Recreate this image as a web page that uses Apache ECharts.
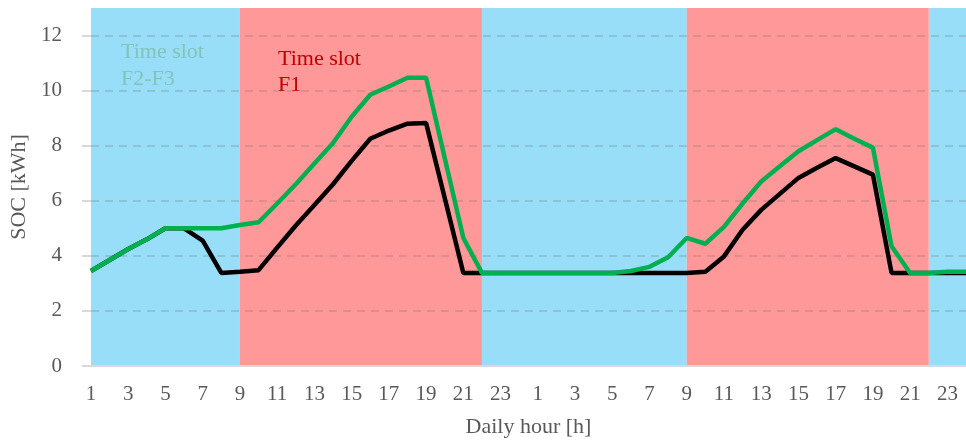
<!DOCTYPE html>
<html lang="en">
<head>
    <meta charset="UTF-8">
    <title>SOC</title>
    <script src="https://cdn.jsdelivr.net/npm/echarts@6/dist/echarts.min.js"></script>
    <style>
        body { margin: 0; background: #fff; }
        #app { width: 966px; height: 440px; }
    </style>
</head>
<body>
    <div id="app"></div>
    <script>
        // two days, hour of day
        const hours = ['1','2','3','4','5','6','7','8','9','10','11','12','13','14','15','16','17','18','19','20','21','22','23','24',
                       '1','2','3','4','5','6','7','8','9','10','11','12','13','14','15','16','17','18','19','20','21','22','23','24'];

        const socBlack = [3.45, 3.85, 4.25, 4.6, 5.0, 5.0, 4.55, 3.38, 3.42, 3.48, 4.3, 5.1, 5.85, 6.6, 7.45, 8.25, 8.55, 8.8, 8.82, 6.1, 3.38, 3.38, 3.38, 3.38,
                          3.38, 3.38, 3.38, 3.38, 3.38, 3.38, 3.38, 3.38, 3.38, 3.42, 3.98, 4.95, 5.67, 6.25, 6.83, 7.2, 7.55, 7.25, 6.95, 3.38, 3.38, 3.38, 3.38, 3.38];

        const socGreen = [3.45, 3.85, 4.25, 4.6, 5.0, 5.0, 5.0, 5.0, 5.12, 5.22, 5.9, 6.6, 7.35, 8.1, 9.05, 9.85, 10.15, 10.47, 10.47, 7.55, 4.65, 3.38, 3.38, 3.38,
                          3.38, 3.38, 3.38, 3.38, 3.38, 3.45, 3.6, 3.95, 4.65, 4.44, 5.05, 5.9, 6.7, 7.25, 7.8, 8.2, 8.6, 8.25, 7.93, 4.35, 3.38, 3.38, 3.42, 3.42];

        // time slot bands as [start index, end index]
        const slotOffPeak = [[0, 8], [21, 32], [45, 47]];
        const slotPeak = [[8, 21], [32, 45]];

        const font = 'Liberation Serif';
        const blue = '#99DEF8';
        const red = '#FF9899';

        const bands = [];
        slotOffPeak.forEach(s => bands.push([{ xAxis: s[0], itemStyle: { color: blue } }, { xAxis: s[1] }]));
        slotPeak.forEach(s => bands.push([{ xAxis: s[0], itemStyle: { color: red } }, { xAxis: s[1] }]));

        const myChart = echarts.init(document.getElementById('app'));

        const option = {
            animation: false,
            grid: { left: 91, right: 0, top: 8, bottom: 74, outerBoundsMode: 'none', containLabel: false },
            textStyle: { fontFamily: font },
            graphic: [
                {
                    type: 'text', left: 121, top: 39, z: 10,
                    style: { text: 'Time slot\nF2-F3', fill: '#82C3BB', font: '22px "Liberation Serif"', lineHeight: 27 }
                },
                {
                    type: 'text', left: 278, top: 46, z: 10,
                    style: { text: 'Time slot\nF1', fill: '#C00000', font: '22px "Liberation Serif"', lineHeight: 26 }
                }
            ],
            xAxis: {
                type: 'category',
                data: hours,
                boundaryGap: false,
                z: 1,
                name: 'Daily hour [h]',
                nameLocation: 'middle',
                nameGap: 50,
                nameTextStyle: { fontFamily: font, fontSize: 22, color: '#595959' },
                axisLine: { lineStyle: { color: '#D9D9D9', width: 2 } },
                axisTick: { show: false },
                axisLabel: { interval: 1, margin: 18, fontFamily: font, fontSize: 21, color: '#595959' },
                splitLine: { show: false }
            },
            yAxis: {
                type: 'value',
                min: 0,
                max: 13,
                interval: 2,
                z: 1,
                name: 'SOC [kWh]',
                nameLocation: 'middle',
                nameGap: 58,
                nameTextStyle: { fontFamily: font, fontSize: 22, color: '#595959' },
                axisLine: { show: false },
                axisTick: { show: true, length: 9, lineStyle: { color: '#D9D9D9', width: 2 } },
                axisLabel: { margin: 29, showMaxLabel: false, fontFamily: font, fontSize: 21, color: '#595959' },
                splitLine: { showMaxLine: false, lineStyle: { color: 'rgba(110,110,110,0.3)', type: [8, 6], width: 1.5 } }
            },
            series: [
                {
                    name: 'bands',
                    type: 'line',
                    data: [],
                    z: 0,
                    silent: true,
                    markArea: { silent: true, z: 0, data: bands }
                },
                {
                    name: 'SOC black',
                    type: 'line',
                    data: socBlack,
                    z: 2,
                    showSymbol: false,
                    lineStyle: { color: '#000000', width: 4.5 }
                },
                {
                    name: 'SOC green',
                    type: 'line',
                    data: socGreen,
                    z: 3,
                    showSymbol: false,
                    lineStyle: { color: '#00B050', width: 4.5 }
                }
            ]
        };

        myChart.setOption(option);
    </script>
</body>
</html>
